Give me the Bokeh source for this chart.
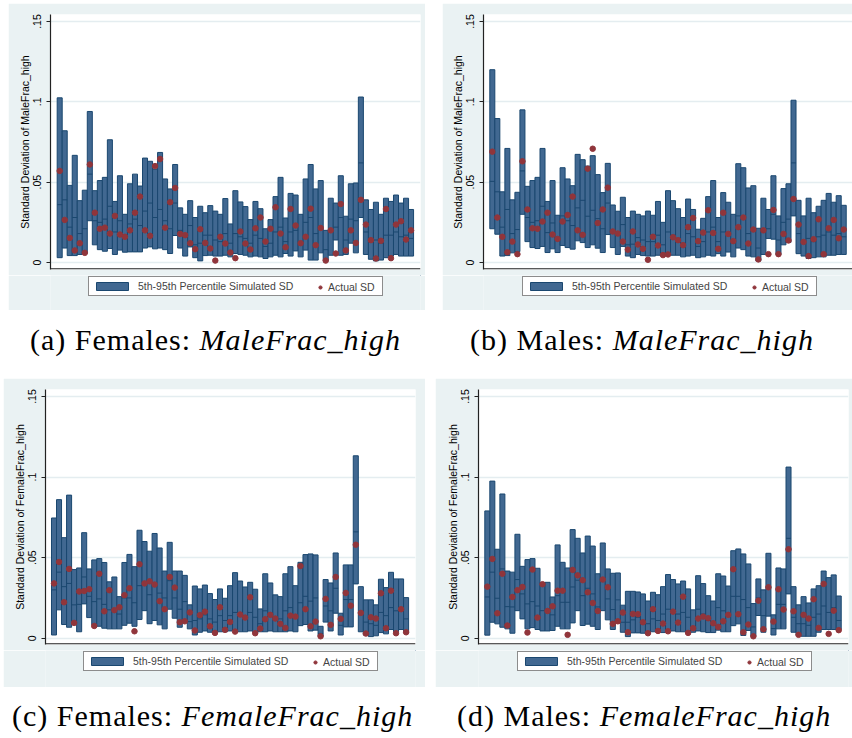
from bokeh.plotting import figure
from bokeh.models import ColumnDataSource, FixedTicker, Legend, LegendItem, Div, Spacer, Span
from bokeh.layouts import column, row
from bokeh.embed import file_html
from bokeh.resources import INLINE

# ---------------- data ----------------
Y_TICKS = [0, 0.05, 0.1, 0.15]
Y_TICK_LABELS = ["0", ".05", ".1", ".15"]
LEGEND_LABELS = ["5th-95th Percentile Simulated SD", "Actual SD"]
YLABELS = ["Standard Deviation of MaleFrac_high", "Standard Deviation of MaleFrac_high",
           "Standard Deviation of FemaleFrac_high", "Standard Deviation of FemaleFrac_high"]
CAP_PREFIX = ["(a) Females: ", "(b) Males: ", "(c) Females: ", "(d) Males: "]
CAP_VAR = ["MaleFrac_high", "MaleFrac_high", "FemaleFrac_high", "FemaleFrac_high"]

# Panel (a) Females: MaleFrac_high
A_P95 = [.1025, .082, .048, .0667, .0385, .045, .094, .0447, .051, .053,
         .0764, .038, .054, .030, .049, .055, .0476, .065, .063, .058,
         .0685, .052, .0458, .061, .034, .030, .0385, .028, .035, .031,
         .0354, .032, .030, .0398, .024, .0447, .0377, .0348, .0267, .038,
         .0335, .021, .0267, .041, .053, .0277, .043, .042, .030, .052,
         .061, .0458, .051, .020, .040, .037, .054, .0288, .049, .0495,
         .103, .039, .033, .0375, .030, .040, .038, .042, .037, .040,
         .033]
A_P5 = [.003, .009, .0043, .0043, .005, .0056, .026, .011, .008, .007,
        .0087, .005, .0077, .0064, .0066, .0066, .0066, .009, .0097, .0085,
        .009, .008, .0056, .0168, .009, .004, .0097, .003, .001, .0043,
        .0045, .004, .004, .0045, .0035, .0056, .005, .0045, .0035, .004,
        .0035, .0025, .0035, .0045, .0035, .0056, .004, .0072, .0035, .0077,
        .0015, .0015, .006, .001, .0045, .014, .0045, .005, .012, .006,
        .028, .005, .002, .001, .0015, .003, .004, .005, .004, .004,
        .004]
A_P50 = [.036, .039, .022, .028, .018, .021, .055, .026, .025, .027,
         .035, .019, .026, .015, .024, .027, .023, .032, .037, .028,
         .033, .026, .021, .037, .020, .016, .023, .011, .012, .017,
         .017, .014, .013, .018, .012, .018, .016, .015, .012, .017,
         .015, .010, .012, .019, .022, .013, .019, .020, .013, .025,
         .028, .018, .021, .008, .020, .022, .028, .014, .027, .026,
         .062, .019, .013, .014, .012, .017, .017, .019, .016, .017,
         .015]
A_ACT = [.057, .0265, .0153, .0075, .012, .006, .061, .031, .021, .0217,
         .018, .029, .0174, .016, .020, .031, .041, .020, .0166, .060,
         .0644, .0217, .0375, .0464, .0178, .017, .012, .0083, .0207, .0122,
         .0087, .0012, .016, .0118, .0062, .0027, .0193, .0118, .0081, .0213,
         .028, .013, .021, .0344, .018, .0095, .0333, .023, .012, .016,
         .0335, .0108, .0215, .0012, .020, .0056, .0364, .0075, .020, .0122,
         .039, .0236, .0139, .0025, .0135, .0333, .0027, .0236, .0257, .0143,
         .020]

# Panel (b) Males: MaleFrac_high
B_P95 = [.120, .0896, .044, .071, .039, .0437, .095, .0474, .051, .053,
         .071, .038, .051, .0294, .059, .052, .0478, .0673, .064, .060,
         .0665, .0547, .0435, .0617, .0358, .0319, .0406, .028, .032, .030,
         .029, .032, .0294, .038, .025, .0447, .0385, .0335, .028, .0395,
         .033, .0207, .0275, .041, .051, .028, .0435, .0375, .030, .0615,
         .059, .0464, .0478, .0213, .040, .033, .054, .029, .046, .049,
         .101, .0387, .029, .040, .031, .035, .0387, .043, .0375, .0416,
         .0356]
B_P5 = [.021, .0176, .004, .0043, .006, .0068, .030, .013, .0093, .0087,
        .010, .0062, .0085, .0062, .0106, .0093, .0083, .0135, .0124, .0093,
        .011, .0089, .0062, .0174, .0093, .005, .010, .004, .003, .005,
        .0043, .004, .004, .0045, .004, .005, .0045, .0045, .0035, .004,
        .0045, .003, .0035, .0045, .004, .0055, .004, .0065, .0035, .009,
        .008, .004, .0035, .001, .005, .015, .0145, .005, .011, .0125,
        .029, .0055, .004, .0025, .003, .0035, .0035, .0045, .0045, .005,
        .005]
B_P50 = [.0505, .044, .022, .033, .018, .0205, .057, .028, .025, .026,
         .035, .0186, .0246, .0145, .029, .026, .023, .034, .0387, .0288,
         .0325, .0273, .021, .037, .020, .017, .0236, .011, .0114, .0155,
         .014, .013, .013, .017, .011, .019, .017, .015, .012, .018,
         .016, .010, .013, .019, .022, .013, .019, .018, .014, .029,
         .028, .018, .020, .009, .019, .021, .030, .014, .025, .027,
         .062, .018, .013, .015, .013, .016, .017, .019, .017, .018,
         .016]
B_ACT = [.069, .028, .016, .0064, .013, .0052, .063, .033, .0213, .021,
         .0255, .031, .0174, .0147, .0255, .0296, .041, .020, .0172, .0584,
         .0708, .0246, .033, .0466, .0193, .018, .013, .008, .0193, .0112,
         .0085, .0017, .016, .0106, .0046, .005, .0157, .0139, .0108, .022,
         .0277, .0133, .0186, .0325, .0184, .0085, .031, .0178, .0133, .022,
         .028, .0118, .0205, .0019, .020, .0052, .0327, .0052, .0178, .0137,
         .0395, .0236, .0128, .004, .0145, .0269, .0052, .0213, .0265, .0151,
         .0205]

# Panel (c) Females: FemaleFrac_high
C_P95 = [.0746, .086, .0624, .0888, .0426, .0436, .0655, .043, .0486, .0494,
         .047, .035, .038, .0258, .047, .052, .0444, .067, .060, .054,
         .065, .056, .0417, .0595, .0417, .0417, .039, .0207, .0324, .0306,
         .033, .0277, .024, .0306, .0248, .0326, .0407, .0355, .0318, .0347,
         .0304, .0182, .040, .0343, .0269, .0258, .040, .0444, .0326, .0471,
         .0519, .0523, .0517, .0074, .0364, .0343, .0529, .0155, .0455, .0455,
         .1132, .032, .0238, .0238, .0207, .0366, .0314, .0409, .0368, .0368,
         .0252]
C_P5 = [.002, .0176, .0085, .0068, .0095, .004, .0213, .0128, .0083, .0074,
        .0062, .0058, .0058, .0058, .008, .0093, .0074, .0116, .0171, .009,
        .011, .0083, .0058, .018, .0124, .0068, .0103, .0058, .002, .0037,
        .0045, .0037, .0033, .004, .004, .0045, .0045, .004, .004, .0045,
        .0035, .004, .004, .0045, .004, .004, .004, .0045, .004, .0078,
        .0085, .0045, .005, .0012, .010, .0045, .0155, .002, .007, .007,
        .0337, .004, .002, .001, .0015, .0035, .0027, .0054, .004, .0054,
        .0037]
C_P50 = [.030, .041, .032, .034, .0207, .021, .038, .026, .0227, .0244,
         .021, .0176, .017, .015, .025, .025, .022, .0326, .0347, .027,
         .0326, .028, .025, .0357, .025, .018, .0227, .0103, .011, .012,
         .0145, .012, .010, .014, .011, .014, .016, .015, .014, .016,
         .013, .009, .017, .015, .012, .012, .017, .019, .014, .022,
         .026, .023, .025, .003, .020, .017, .031, .008, .024, .024,
         .066, .015, .010, .009, .008, .016, .014, .019, .017, .019,
         .012]
C_ACT = [.034, .0473, .0223, .043, .0095, .029, .0293, .0304, .0076, .040,
         .0167, .0298, .0174, .0192, .0267, .031, .0043, .0459, .034, .0353,
         .0333, .023, .018, .038, .0314, .0099, .0105, .016, .0048, .0143,
         .0165, .0074, .0033, .0192, .0052, .0101, .0041, .0147, .0128, .0254,
         .0031, .006, .0118, .0145, .0122, .0089, .0064, .014, .0134, .0448,
         .018, .0074, .0103, .0012, .0244, .0083, .038, .012, .0281, .0202,
         .058, .0157, .0029, .013, .0122, .0279, .0062, .0295, .0031, .018,
         .0037]

# Panel (d) Males: FemaleFrac_high
D_P95 = [.079, .0975, .0552, .0895, .0417, .041, .0645, .0446, .0488, .0494,
         .0434, .0345, .0347, .0256, .0579, .0471, .0436, .0674, .062, .0529,
         .0634, .0572, .040, .0591, .043, .0403, .0405, .0205, .0291, .0291,
         .0287, .0275, .0231, .0285, .027, .032, .0395, .0364, .0337, .0355,
         .0306, .0176, .0388, .0339, .0264, .0231, .040, .0386, .0324, .0543,
         .0554, .0523, .0461, .0215, .0368, .030, .0527, .0145, .0436, .043,
         .1062, .032, .0207, .0258, .0219, .0306, .0326, .0417, .0376, .0393,
         .0262]
D_P5 = [.0019, .0099, .0089, .0068, .0058, .0031, .0171, .012, .0058, .0066,
        .0054, .0045, .0045, .0048, .0074, .0058, .0058, .0095, .0171, .0079,
        .0087, .0074, .0054, .0171, .0114, .0054, .0095, .0037, .001, .0033,
        .0033, .0031, .003, .004, .004, .0035, .004, .0045, .004, .004,
        .0035, .0037, .0045, .004, .0035, .0035, .005, .004, .004, .0078,
        .0089, .0017, .0048, .0012, .0141, .0037, .0137, .002, .0058, .0058,
        .0275, .0037, .0017, .0012, .0012, .0012, .0037, .0054, .0054, .0054,
        .0054]
D_P50 = [.0256, .041, .0248, .043, .0196, .0194, .0364, .0275, .0213, .0227,
         .020, .0171, .0165, .0145, .0264, .0223, .0223, .0318, .036, .0264,
         .031, .0275, .0194, .0362, .0244, .0178, .0238, .0099, .0099, .0114,
         .013, .011, .009, .012, .011, .015, .018, .017, .015, .016,
         .013, .007, .018, .015, .011, .010, .019, .017, .014, .026,
         .026, .024, .019, .007, .025, .014, .031, .006, .021, .021,
         .062, .013, .009, .009, .008, .013, .015, .020, .016, .019,
         .011]
D_ACT = [.032, .0492, .0155, .040, .0079, .0256, .0298, .0318, .0035, .0426,
         .0128, .0335, .0169, .0198, .0295, .0295, .0021, .0424, .039, .036,
         .0285, .0219, .0169, .0364, .0316, .0089, .0105, .0159, .0037, .0151,
         .0149, .0099, .0031, .018, .0045, .0091, .0043, .0165, .0097, .0258,
         .0033, .0062, .0122, .0134, .0124, .0093, .007, .0105, .0145, .0428,
         .0149, .0037, .0085, .0012, .0233, .0056, .0316, .0103, .0304, .0178,
         .0552, .0167, .0021, .0145, .0122, .0242, .0064, .0337, .0027, .0171,
         .005]

for nm, arr in [("A_P95", A_P95), ("A_P5", A_P5), ("A_P50", A_P50), ("A_ACT", A_ACT),
                ("B_P95", B_P95), ("B_P5", B_P5), ("B_P50", B_P50), ("B_ACT", B_ACT),
                ("C_P95", C_P95), ("C_P5", C_P5), ("C_P50", C_P50), ("C_ACT", C_ACT),
                ("D_P95", D_P95), ("D_P5", D_P5), ("D_P50", D_P50), ("D_ACT", D_ACT)]:
    if len(arr) != 71:
        print("length warning", nm, len(arr))

# ---------------- styling ----------------
BG = "#EAF2F3"
GRID = "#E4EDF0"
BAR_FILL = "#416891"
BAR_LINE = "#1A476F"
DOT = "#90353B"
AXIS = "#222222"
SANS = "Liberation Sans"
BAR_STYLE = dict(fill_color=BAR_FILL, line_color=BAR_LINE, line_width=1)
DOT_STYLE = dict(size=5.5, fill_color=DOT, line_color=DOT)


def plot_panel(p95, p5, p50, act, ylabel, width, bl, br, xr, yr):
    n = len(p95)
    xs = list(range(1, n + 1))
    src = ColumnDataSource(dict(x=xs, hi=p95, lo=p5, med=p50, act=act,
                                x0=[v - 0.5 for v in xs], x1=[v + 0.5 for v in xs]))
    p = figure(width=width, height=272, output_backend="svg", toolbar_location=None,
               x_range=xr, y_range=yr, x_axis_location=None,
               min_border_left=bl, min_border_right=br, min_border_top=11, min_border_bottom=6)
    p.border_fill_color = BG
    p.background_fill_color = "white"
    p.outline_line_color = None

    p.vbar(x="x", bottom="lo", top="hi", width=1.0, source=src, **BAR_STYLE)
    p.segment(x0="x0", x1="x1", y0="med", y1="med", line_color=BAR_LINE,
              line_width=1, source=src)
    p.scatter(x="x", y="act", source=src, **DOT_STYLE)

    # bottom axis line
    p.add_layout(Span(location=yr[0] + 0.0004, dimension="width",
                      line_color=AXIS, line_width=1.2))

    p.xgrid.visible = False
    p.ygrid.ticker = FixedTicker(ticks=Y_TICKS)
    p.ygrid.grid_line_color = GRID
    p.ygrid.grid_line_width = 1.5

    yax = p.yaxis[0]
    yax.ticker = FixedTicker(ticks=Y_TICKS)
    yax.major_label_overrides = dict(zip(Y_TICKS, Y_TICK_LABELS))
    yax.major_label_orientation = "vertical"
    yax.major_tick_out = 4
    yax.major_tick_in = 0
    yax.minor_tick_line_color = None
    yax.major_label_standoff = 5
    yax.axis_label = ylabel
    yax.axis_label_standoff = 0
    yax.axis_label_text_font = SANS
    yax.axis_label_text_font_size = "10.5px"
    yax.axis_label_text_font_style = "normal"
    yax.axis_label_text_color = "black"
    yax.major_label_text_font = SANS
    yax.major_label_text_font_size = "10.5px"
    yax.major_label_text_color = "black"
    yax.axis_line_color = AXIS
    yax.axis_line_width = 1.2
    yax.major_tick_line_color = AXIS
    return p


def legend_panel(width, height, lx, ly):
    # legend-only strip; its frame is aligned with the plot frame above it
    q = figure(width=width, height=height, output_backend="svg", toolbar_location=None,
               x_range=(0, 1), y_range=(0, 1), x_axis_location=None, y_axis_location=None,
               min_border=0, min_border_left=0, min_border_right=0,
               min_border_top=0, min_border_bottom=0)
    q.border_fill_color = BG
    q.background_fill_color = BG
    q.outline_line_color = None
    q.grid.visible = False
    # proxy renderers (outside the visible range) that only supply legend glyphs
    r_bar = q.vbar(x=[5], top=[6], bottom=[5], width=1.0, **BAR_STYLE)
    r_dot = q.scatter(x=[5], y=[5], **DOT_STYLE)
    leg1 = Legend(items=[LegendItem(label=LEGEND_LABELS[0], renderers=[r_bar])],
                  location=(lx, ly), orientation="horizontal",
                  glyph_width=40, glyph_height=10, label_width=241, label_height=11,
                  label_standoff=6, padding=3, spacing=0, margin=0,
                  border_line_color="#1a1a1a", border_line_width=1,
                  background_fill_color="white", background_fill_alpha=1.0,
                  label_text_font=SANS, label_text_font_size="10.5px")
    leg2 = Legend(items=[LegendItem(label=LEGEND_LABELS[1], renderers=[r_dot])],
                  location=(lx + 225, ly), orientation="horizontal",
                  glyph_width=8, glyph_height=10, label_height=11,
                  label_standoff=4, padding=3, spacing=0, margin=0,
                  border_line_alpha=0, background_fill_alpha=0,
                  label_text_font=SANS, label_text_font_size="10.5px")
    q.add_layout(leg1)
    q.add_layout(leg2)
    return q


YR_TOP = (-0.00436, 0.15436)
YR_BOT = (-0.0039, 0.15434)

pa = plot_panel(A_P95, A_P5, A_P50, A_ACT, YLABELS[0], 417, 42, 5, (-0.83, 72.88), YR_TOP)
pb = plot_panel(B_P95, B_P5, B_P50, B_ACT, YLABELS[1], 410, 41, 0, (-0.755, 72.75), YR_TOP)
pc = plot_panel(C_P95, C_P5, C_P50, C_ACT, YLABELS[2], 422, 42, 10, (-0.69, 72.87), YR_BOT)
pd = plot_panel(D_P95, D_P5, D_P50, D_ACT, YLABELS[3], 417, 43, 4, (-0.755, 72.95), YR_BOT)

la = legend_panel(417, 35, 38, 14)
lb = legend_panel(410, 35, 39, 14)
lc = legend_panel(422, 37, 38, 16)
ld = legend_panel(417, 37, 39, 16)


def caption(i, width, height, pad_left, pad_top):
    html = ('<div style="font-family:\'Liberation Serif\', \'Times New Roman\', serif; '
            'font-size:30px; line-height:30px; letter-spacing:1px; white-space:nowrap; '
            f'color:black; padding-left:{pad_left}px; padding-top:{pad_top}px;">'
            f'{CAP_PREFIX[i]}<i>{CAP_VAR[i]}</i></div>')
    return Div(text=html, width=width, height=height, margin=0)


def sp(w, h):
    return Spacer(width=w, height=h, margin=0)


col_a = column(pa, la, spacing=0)
col_b = column(pb, lb, spacing=0)
col_c = column(pc, lc, spacing=0)
col_d = column(pd, ld, spacing=0)

row1 = row(sp(8, 307), col_a, sp(17, 307), col_b, spacing=0)
row2 = row(caption(0, 442, 68, 30, 15), caption(1, 410, 68, 28, 15), spacing=0)
row3 = row(sp(3, 309), col_c, sp(10, 309), col_d, spacing=0)
row4 = row(caption(2, 435, 45, 12, 14), caption(3, 417, 45, 22, 14), spacing=0)
layout = column(sp(852, 3), row1, row2, row3, row4, spacing=0)

open("out.html", "w").write(file_html(layout, INLINE))
